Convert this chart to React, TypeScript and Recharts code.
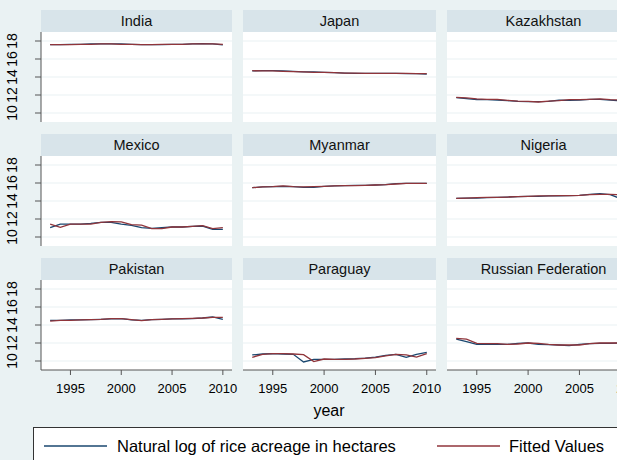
import { LineChart, Line, XAxis, YAxis, ReferenceLine } from 'recharts'

const years = [1993, 1994, 1995, 1996, 1997, 1998, 1999, 2000, 2001, 2002, 2003, 2004, 2005, 2006, 2007, 2008, 2009, 2010]
const xTicks = [1995, 2000, 2005, 2010]
const yTicks = [10, 12, 14, 16, 18]
const countries = ['India', 'Japan', 'Kazakhstan', 'Mexico', 'Myanmar', 'Nigeria', 'Pakistan', 'Paraguay', 'Russian Federation']

// natural log of rice acreage (blue) and fitted values (red), 1993-2010
const indiaLog = [17.59, 17.59, 17.63, 17.63, 17.67, 17.67, 17.67, 17.67, 17.63, 17.59, 17.59, 17.59, 17.63, 17.63, 17.67, 17.70, 17.67, 17.56]
const indiaFit = [17.59, 17.59, 17.59, 17.63, 17.63, 17.67, 17.67, 17.63, 17.63, 17.59, 17.59, 17.63, 17.63, 17.63, 17.67, 17.67, 17.67, 17.63]
const japanLog = [14.67, 14.70, 14.70, 14.67, 14.63, 14.56, 14.56, 14.52, 14.48, 14.44, 14.41, 14.41, 14.41, 14.41, 14.41, 14.37, 14.37, 14.33]
const japanFit = [14.70, 14.67, 14.67, 14.63, 14.59, 14.56, 14.52, 14.52, 14.48, 14.44, 14.44, 14.41, 14.41, 14.41, 14.41, 14.41, 14.37, 14.37]
const kazakhLog = [11.70, 11.59, 11.48, 11.48, 11.44, 11.37, 11.30, 11.26, 11.26, 11.30, 11.44, 11.41, 11.44, 11.52, 11.52, 11.44, 11.33, 11.37]
const kazakhFit = [11.74, 11.67, 11.56, 11.52, 11.52, 11.41, 11.33, 11.30, 11.22, 11.33, 11.37, 11.48, 11.48, 11.52, 11.56, 11.48, 11.44, 11.41]
const mexicoLog = [11.04, 11.44, 11.44, 11.44, 11.52, 11.63, 11.63, 11.44, 11.30, 11.04, 10.96, 11.04, 11.11, 11.11, 11.19, 11.22, 10.85, 10.85]
const mexicoFit = [11.44, 11.07, 11.44, 11.44, 11.44, 11.63, 11.70, 11.67, 11.37, 11.33, 10.93, 10.93, 11.11, 11.11, 11.19, 11.26, 10.93, 11.04]
const myanmarLog = [15.48, 15.56, 15.59, 15.63, 15.59, 15.52, 15.52, 15.63, 15.67, 15.70, 15.74, 15.74, 15.78, 15.81, 15.93, 15.96, 15.96, 15.96]
const myanmarFit = [15.48, 15.56, 15.59, 15.67, 15.59, 15.56, 15.59, 15.63, 15.67, 15.70, 15.70, 15.74, 15.78, 15.81, 15.89, 15.96, 15.96, 15.96]
const nigeriaLog = [14.30, 14.33, 14.33, 14.37, 14.41, 14.44, 14.48, 14.52, 14.52, 14.56, 14.56, 14.59, 14.63, 14.74, 14.81, 14.70, 14.26, 14.19]
const nigeriaFit = [14.30, 14.33, 14.37, 14.41, 14.41, 14.44, 14.48, 14.52, 14.56, 14.56, 14.59, 14.59, 14.63, 14.70, 14.74, 14.74, 14.70, 14.67]
const pakistanLog = [14.52, 14.52, 14.56, 14.56, 14.59, 14.63, 14.67, 14.70, 14.56, 14.52, 14.59, 14.63, 14.67, 14.67, 14.70, 14.78, 14.89, 14.63]
const pakistanFit = [14.44, 14.52, 14.52, 14.56, 14.59, 14.63, 14.70, 14.70, 14.59, 14.48, 14.59, 14.63, 14.67, 14.70, 14.74, 14.78, 14.85, 14.85]
const paraguayLog = [10.67, 10.78, 10.81, 10.78, 10.74, 9.89, 10.19, 10.19, 10.19, 10.22, 10.26, 10.33, 10.44, 10.63, 10.74, 10.41, 10.74, 10.96]
const paraguayFit = [10.41, 10.74, 10.81, 10.81, 10.78, 10.70, 9.93, 10.22, 10.19, 10.19, 10.22, 10.30, 10.37, 10.56, 10.74, 10.67, 10.44, 10.81]
const russiaLog = [12.44, 12.15, 11.85, 11.89, 11.85, 11.85, 11.96, 12.00, 11.85, 11.81, 11.78, 11.70, 11.85, 11.93, 11.96, 11.96, 12.00, 12.04]
const russiaFit = [12.52, 12.44, 11.96, 11.93, 11.93, 11.85, 11.89, 12.00, 11.96, 11.85, 11.78, 11.78, 11.78, 11.93, 12.00, 12.00, 12.00, 12.04]

const logSeries = [indiaLog, japanLog, kazakhLog, mexicoLog, myanmarLog, nigeriaLog, pakistanLog, paraguayLog, russiaLog]
const fitSeries = [indiaFit, japanFit, kazakhFit, mexicoFit, myanmarFit, nigeriaFit, pakistanFit, paraguayFit, russiaFit]

const NAVY = '#1a476f'
const MAROON = '#90353b'
const BG = '#eaf2f3'
const STRIP = '#d8e4ea'
const GRID = '#eaf2f3'
const AXIS = '#555'
const FONT = '"Liberation Sans", Arial, sans-serif'

const colLeft = [41, 243, 447]
const colWidth = [191, 193, 193]
const rowTop = [32, 156, 280]
const PLOT_H = 90
const STRIP_H = 22
const RIGHT_PAD = 16

function YTick(props: any) {
    const { y, payload } = props
    return (
        <text
            x={12}
            y={y}
            transform={`rotate(-90 12 ${y})`}
            textAnchor="middle"
            dominantBaseline="central"
            fontSize={14}
            fontFamily={FONT}
            fill="#000"
        >
            {payload.value}
        </text>
    )
}

function Panel({ idx }: { idx: number }) {
    const r = Math.floor(idx / 3)
    const c = idx % 3
    const left = colLeft[c]
    const top = rowTop[r]
    const w = colWidth[c]
    const showY = c === 0
    const showX = r === 2
    const yW = showY ? left : 0
    const xH = showX ? 40 : 0
    const data = years.map((yr, i) => ({ year: yr, log: logSeries[idx][i], fit: fitSeries[idx][i] }))

    return (
        <>
            <div
                style={{
                    position: 'absolute', left, top: top - STRIP_H, width: w, height: STRIP_H,
                    background: STRIP, display: 'flex', alignItems: 'center', justifyContent: 'center',
                    fontSize: 14.5, color: '#111',
                }}
            >
                {countries[idx]}
            </div>
            <div style={{ position: 'absolute', left, top, width: w, height: PLOT_H, background: '#fff' }} />
            <div style={{ position: 'absolute', left: left - yW, top }}>
                <LineChart
                    width={w + yW + RIGHT_PAD}
                    height={PLOT_H + xH}
                    data={data}
                    margin={{ top: 0, right: RIGHT_PAD, bottom: 0, left: 0 }}
                >
                    <XAxis
                        type="number"
                        dataKey="year"
                        domain={[1992.1, 2010.9]}
                        ticks={xTicks}
                        interval={0}
                        hide={!showX}
                        height={40}
                        axisLine={{ stroke: AXIS }}
                        tickLine={{ stroke: AXIS }}
                        tickSize={5}
                        tickMargin={9}
                        tick={{ fontSize: 13, fill: '#000', fontFamily: FONT }}
                    />
                    <YAxis
                        type="number"
                        domain={[9, 19]}
                        ticks={yTicks}
                        interval={0}
                        hide={!showY}
                        width={yW}
                        axisLine={{ stroke: AXIS }}
                        tickLine={{ stroke: AXIS }}
                        tickSize={6}
                        tick={<YTick />}
                    />
                    {yTicks.map((v) => (
                        <ReferenceLine key={v} y={v} stroke={GRID} strokeWidth={1.2} />
                    ))}
                    <Line type="linear" dataKey="log" stroke={NAVY} strokeWidth={1.3} dot={false} isAnimationActive={false} />
                    <Line type="linear" dataKey="fit" stroke={MAROON} strokeWidth={1.3} dot={false} isAnimationActive={false} />
                </LineChart>
            </div>
        </>
    )
}

export default function App() {
    return (
        <div
            style={{
                position: 'absolute', left: 0, top: 0, width: 617, height: 460, overflow: 'hidden',
                background: BG, fontFamily: FONT,
            }}
        >
            {countries.map((_, i) => (
                <Panel key={i} idx={i} />
            ))}
            <div style={{ position: 'absolute', left: 279, width: 100, top: 402, textAlign: 'center', fontSize: 16, color: '#000' }}>
                year
            </div>
            <div
                style={{
                    position: 'absolute', left: 33, top: 427, width: 640, height: 40,
                    border: '1px solid #333', background: '#fff',
                }}
            >
                <svg width={640} height={40} style={{ position: 'absolute', left: 0, top: 0 }}>
                    <line x1={10} x2={73} y1={18} y2={18} stroke={NAVY} strokeWidth={1.5} />
                    <line x1={403} x2={466} y1={18} y2={18} stroke={MAROON} strokeWidth={1.5} />
                    <text x={83} y={18} dominantBaseline="central" fontSize={16.5} fontFamily={FONT} fill="#000">
                        Natural log of rice acreage in hectares
                    </text>
                    <text x={475} y={18} dominantBaseline="central" fontSize={16.5} fontFamily={FONT} fill="#000">
                        Fitted Values
                    </text>
                </svg>
            </div>
        </div>
    )
}
